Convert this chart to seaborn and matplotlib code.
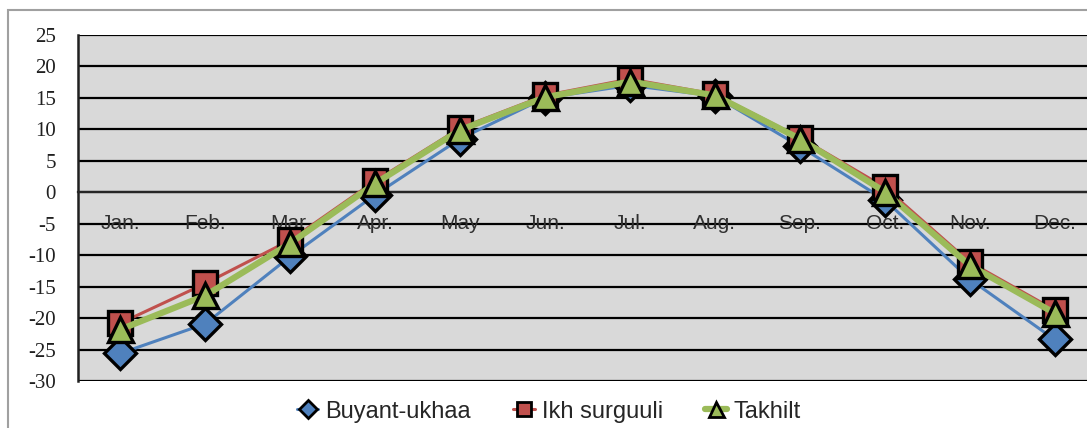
import pandas as pd
import matplotlib.pyplot as plt
import seaborn as sns
from matplotlib.lines import Line2D
from matplotlib.patches import Rectangle

# Monthly mean temperature (°C)
months = ["Jan.", "Feb.", "Mar.", "Apr.", "May", "Jun.",
          "Jul.", "Aug.", "Sep.", "Oct.", "Nov.", "Dec."]
buyant_ukhaa = [-25.6, -20.9, -10.2, -0.4, 8.5, 15.0, 17.0, 15.3, 7.3, -1.2, -13.8, -23.4]
ikh_surguuli = [-20.8, -14.5, -7.6, 1.8, 10.2, 15.4, 18.0, 15.6, 8.7, 0.8, -11.1, -18.7]
takhilt = [-21.8, -16.4, -8.1, 1.4, 9.9, 15.1, 17.6, 15.4, 8.5, 0.1, -11.6, -19.2]

series = {
    "Buyant-ukhaa": (buyant_ukhaa, "#4F81BD", "D", 2.2, 16),
    "Ikh surguuli": (ikh_surguuli, "#C0504D", "s", 2.2, 17),
    "Takhilt": (takhilt, "#9BBB59", "^", 4.5, 18),
}

sns.set_style("white")
plt.rcParams["axes.unicode_minus"] = False
fig = plt.figure(figsize=(10.87, 4.28), dpi=100)

# outer chart border (gray, partly cut off like the original)
fig.patches.append(Rectangle((8 / 1087, -0.1), 1.2, 1.1 - 10 / 428,
                             transform=fig.transFigure, fill=False,
                             edgecolor="#A0A0A0", lw=1.5))

ax = fig.add_axes([78 / 1087, 47 / 428, 1019 / 1087, 346 / 428])
ax.set_facecolor("#D9D9D9")
ax.set_axisbelow(False)

for name, (vals, color, marker, lw, ms) in series.items():
    df = pd.DataFrame({"month": months, "temp": vals})
    sns.lineplot(data=df, x="month", y="temp", ax=ax, color=color, lw=lw,
                 marker=marker, markersize=ms, markerfacecolor=color,
                 markeredgecolor="black", markeredgewidth=2.4, sort=False,
                 legend=False, zorder=3)

ax.set_xlim(-0.5, 11.5)
ax.set_ylim(-30, 25)
ax.set_yticks(range(-30, 26, 5))
for y in range(-30, 26, 5):
    ax.axhline(y, color="black", lw=1.6, zorder=1)

# category axis crosses at zero
for s in ["top", "right"]:
    ax.spines[s].set_visible(False)
ax.spines["bottom"].set_position(("data", 0))
ax.spines["bottom"].set_linewidth(1.6)
ax.spines["left"].set_linewidth(1.8)
ax.spines["left"].set_color("#202020")

ax.set_xticks(range(len(months)))
ax.set_xticklabels(months, fontfamily="Liberation Sans", fontsize=15, color="#303030")
ax.set_xticks([i - 0.5 for i in range(len(months) + 1)], minor=True)
ax.tick_params(axis="x", which="major", length=0, pad=16)
ax.tick_params(axis="x", which="minor", length=8, width=1.6, direction="out", color="black")
ax.tick_params(axis="y", length=8, width=1.6, direction="out", color="black", pad=8)
for t in ax.get_yticklabels():
    t.set_fontfamily("Liberation Serif")
    t.set_fontsize(15)
    t.set_color("#202020")
ax.set_xlabel("")
ax.set_ylabel("")

handles = [Line2D([0], [0], color=c, lw=lw, marker=m, markersize=ms * 0.6,
                  markerfacecolor=c, markeredgecolor="black", markeredgewidth=2)
           for (_, c, m, lw, ms) in series.values()]
fig.legend(handles, list(series.keys()), loc="center", ncol=3, frameon=False,
           bbox_to_anchor=(0.505, 0.038), handlelength=0.9, handletextpad=0.3,
           columnspacing=1.8, prop={"family": "Liberation Sans", "size": 17})

fig.savefig("out.png", dpi=100)
